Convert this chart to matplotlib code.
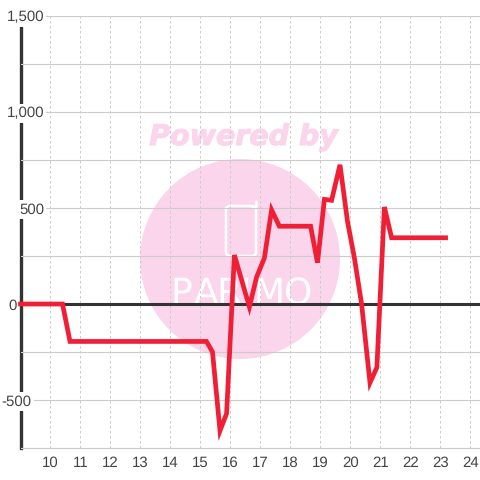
import matplotlib
matplotlib.use("Agg")
import matplotlib.pyplot as plt
import matplotlib.patheffects as pe
from matplotlib.patches import Circle, FancyBboxPatch

x_vals = [9, 10.4, 10.65, 15.2, 15.4, 15.65, 15.87, 16.13, 16.63, 16.87, 17.13, 17.37, 17.63,
          18.67, 18.9, 19.13, 19.37, 19.65, 19.9, 20.13, 20.37, 20.65, 20.88, 21.13, 21.37, 23.17]
y_vals = [0, 0, -195, -195, -250, -660, -570, 255, -15, 140, 240, 490, 405,
          405, 215, 545, 540, 725, 430, 240, 0, -410, -330, 505, 345, 345]
x_ticks = list(range(10, 25))
y_ticks = [-500, 0, 500, 1000, 1500]
y_labels = ["-500", "0", "500", "1,000", "1,500"]
y_minor = [-750, -250, 250, 750, 1250]
y_pads = [-8, 3, -17, -17, -17]  # labels sit at odd offsets in the original
logo_letters = ["P", "A", "R", "I", "M", "O"]
logo_x = [181, 206, 229, 246, 269, 298]

plt.rcParams['font.family'] = ['Liberation Sans', 'DejaVu Sans']
plt.rcParams['text.hinting'] = 'no_hinting'
plt.rcParams['text.hinting_factor'] = 1

fig = plt.figure(figsize=(4.8, 4.8), dpi=100)

# watermark goes underneath, drawn in pixel coordinates
bg = fig.add_axes([0, 0, 1, 1], zorder=0)
bg.set_xlim(0, 480)
bg.set_ylim(480, 0)
bg.axis('off')
pink = '#fbd5ec'
bg.add_patch(Circle((240, 259), 100, color=pink, lw=0))
bg.add_patch(FancyBboxPatch((226, 206), 30, 50, boxstyle="round,pad=0,rounding_size=4",
                            fc='none', ec='white', lw=1.8))
bg.plot([251, 256, 256], [206, 206, 201], color='white', lw=1.8, solid_capstyle='round')
bg.text(242, 145, "Powered by", color=pink, fontsize=20.5, fontweight='bold', fontstyle='italic',
        family='DejaVu Sans', ha='center', va='baseline',
        path_effects=[pe.withStroke(linewidth=0.8, foreground=pink)])
for letter, lx in zip(logo_letters, logo_x):
    bg.text(lx, 304, letter, color='white', fontsize=26,
            family=['Liberation Sans Narrow', 'DejaVu Sans'], ha='center', va='baseline')

ax = fig.add_axes([20.5 / 480, 32 / 480, 459.5 / 480, 432 / 480], zorder=1)
ax.patch.set_alpha(0)
ax.set_xlim(9, 24.317)
ax.set_ylim(-750, 1500)

ax.set_xticks(x_ticks)
ax.set_yticks(y_ticks)
ax.set_yticklabels(y_labels)
ax.set_yticks(y_minor, minor=True)
ax.grid(True, axis='y', which='both', color='#cccccc', lw=0.8)
ax.grid(True, axis='x', color='#cccccc', lw=0.72, ls=(0, (2.5, 2.5)))
ax.set_axisbelow(True)
ax.tick_params(which='both', length=0)
ax.tick_params(axis='x', labelsize=11, labelcolor='#444444', pad=5.5)
for tick, pad in zip(ax.yaxis.get_major_ticks(), y_pads):
    tick.set_pad(pad)
    tick.label1.set_fontsize(11)
    tick.label1.set_color('#444444')
    tick.label1.set_bbox(dict(fc='white', ec='none', pad=1.5))

for side in ['top', 'right']:
    ax.spines[side].set_visible(False)
ax.spines['bottom'].set_color('#cccccc')
ax.spines['bottom'].set_linewidth(0.8)
ax.spines['left'].set_color('#333333')
ax.spines['left'].set_linewidth(2.4)
ax.spines['left'].set_zorder(0.4)  # tick labels knock the axis line out behind them

ax.axhline(0, color='#333333', lw=2.2, zorder=3)
ax.plot(x_vals, y_vals, color='#f01f36', lw=3.4, solid_joinstyle='miter', zorder=4, clip_on=False)

fig.savefig('out.png', dpi=100)
